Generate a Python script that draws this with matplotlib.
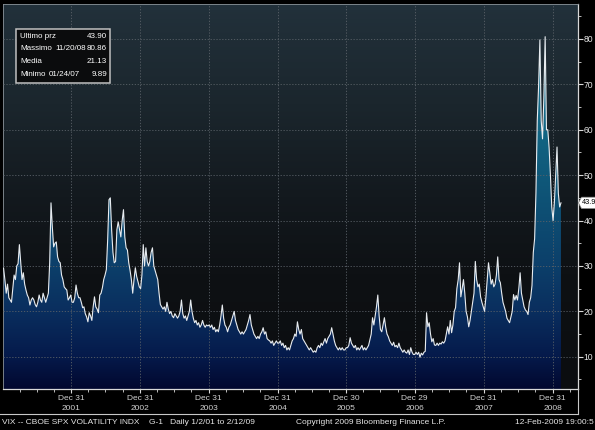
import numpy as np
import pandas as pd
import matplotlib
matplotlib.use('Agg')
import matplotlib.pyplot as plt
import matplotlib.dates as mdates
import matplotlib.transforms as mtrans
from matplotlib.colors import LinearSegmentedColormap
from matplotlib.patches import Rectangle, Polygon
from matplotlib.lines import Line2D

plt.rcParams['font.family'] = ['Liberation Sans', 'DejaVu Sans']

# weekly VIX closes (Fridays, Jan 2001 - Feb 2009)
vix_2001 = [29.5, 27, 24, 26, 23, 22.5, 22, 25, 28, 27,
            30, 30.5, 34.7, 31, 27, 28.5, 26, 24.7, 23.6, 23,
            21.4, 22.5, 23, 22.5, 21.5, 21, 22, 23.6, 22.5, 22,
            24, 23, 22, 23, 24, 30.7, 43.9, 38.6, 34.2, 35,
            35.3, 32, 31, 30.7, 28, 27, 25.4, 25, 24.7, 22.5,
            23, 23.6]
vix_2002 = [22, 22, 23, 25.8, 24, 23, 23, 22, 20.8, 21,
            19.5, 18.8, 17.7, 19.7, 19, 18, 21, 23.2, 21, 20.5,
            19.7, 23.6, 24, 25.2, 27, 28, 29.2, 35.8, 44.6, 45,
            38, 33, 30.7, 31, 38, 39.7, 38, 36.4, 40, 42.4,
            36.4, 34, 33.5, 30.7, 29, 27, 24, 27, 29.6, 27.7,
            26.5, 25.4]
vix_2003 = [25, 28, 34.7, 30, 34, 31, 30, 31, 33, 34,
            30, 29, 28, 27, 24, 21.5, 21, 20.5, 21, 20,
            22, 20.5, 19.5, 20, 19, 18.6, 19.5, 19, 18.5, 19,
            20, 22.5, 19.5, 18.5, 19, 18, 19, 20, 22.5, 20,
            18.5, 17.5, 18, 17, 17.5, 16.5, 17, 18, 17, 16.5,
            17, 16.8]
vix_2004 = [17, 16.5, 17, 16, 16.5, 15.5, 16, 15.5, 17, 19,
            21.4, 18.5, 17, 16.5, 15.5, 16.5, 17, 18, 19, 20,
            18, 17, 16, 15.5, 15, 15.5, 15, 15.5, 16, 17,
            18, 19.3, 17, 16, 15, 14.5, 14, 14.5, 14, 15,
            15.5, 16.4, 15, 15.5, 14, 13.7, 13.5, 13, 13.5, 12.5,
            13, 13.5, 13]
vix_2005 = [13, 13.5, 12.5, 13, 12, 12.5, 11.5, 12, 11.5, 12.5,
            13.5, 14, 15, 14.5, 17.7, 16, 15, 16, 14, 13.5,
            13, 12.5, 12, 11.5, 12, 11.5, 11, 11.3, 11, 12,
            12.5, 12, 13, 12.5, 13.3, 14, 13, 14, 14.5, 15,
            16.4, 15, 13.5, 12.5, 12, 11.5, 12, 11.5, 12, 11.5,
            11.5, 12]
vix_2006 = [12, 12.5, 14.2, 13, 12.5, 12, 12.5, 11.5, 12, 11.5,
            12, 12.5, 11.5, 12, 11.5, 12, 12.5, 13.7, 15, 18.6,
            17, 19, 21, 23.6, 19, 16, 15.5, 17, 18.6, 16.5,
            15, 14.4, 13.5, 13, 12.5, 13.2, 12.2, 12.5, 12, 13,
            12, 11.5, 11, 11.5, 11, 10.8, 11.5, 10.5, 12, 11,
            10.5, 10.5]
vix_2007 = [11, 10.5, 11, 9.9, 10.8, 10.4, 11, 11.2, 19.7, 16.6,
            17.5, 15, 13.3, 14, 12.6, 12.5, 13, 12.5, 13, 12.8,
            13.3, 13, 13.5, 15, 16.6, 15, 18, 15.3, 17, 20,
            20.8, 25, 27, 30.7, 23.2, 25, 27, 24, 20, 18.8,
            16.6, 18, 20, 21.9, 24, 31, 27, 25.4, 26, 23.2,
            22, 21]
vix_2008 = [20, 23, 27, 30.7, 28.5, 26, 27, 25.4, 26, 28,
            32, 27, 26.3, 24, 22, 21, 20, 18.5, 18, 17.5,
            18.8, 20, 23.7, 22.5, 23.5, 22.5, 25, 28.5, 24, 22.5,
            21, 20.3, 20, 19.3, 22, 23, 25.7, 33, 36, 46,
            62, 69.5, 79.8, 62, 58, 67, 80.5, 60, 60, 56,
            50, 43]
vix_2009 = [40, 44, 50, 56.2, 46, 43, 43.9]

year_ticks = ['2001-12-31', '2002-12-31', '2003-12-31', '2004-12-31',
              '2005-12-30', '2006-12-29', '2007-12-31', '2008-12-31']
year_labels = ['Dec 31\n2001', 'Dec 31\n2002', 'Dec 31\n2003', 'Dec 31\n2004',
               'Dec 30\n2005', 'Dec 29\n2006', 'Dec 31\n2007', 'Dec 31\n2008']
stats_names = ['Ultimo prz', 'Massimo', 'Media', 'Minimo']
stats_dates = ['', '11/20/08', '', '01/24/07']
stats_values = ['43.90', '80.86', '21.13', '9.89']
last_value = 43.90

vix = np.array(vix_2001 + vix_2002 + vix_2003 + vix_2004 + vix_2005 +
               vix_2006 + vix_2007 + vix_2008 + vix_2009)
dates = pd.date_range('2001-01-05', periods=len(vix), freq='W-FRI')
xd = mdates.date2num(dates)

W, H = 595, 430
fig = plt.figure(figsize=(W / 100, H / 100), dpi=100)
fig.patch.set_facecolor('black')

def fx(x):
    return x / W

def fy(y):
    return 1 - y / H

ax_l, ax_r, ax_t, ax_b = 3, 577.5, 4, 389
ax = fig.add_axes([fx(ax_l), fy(ax_b), (ax_r - ax_l) / W, (ax_b - ax_t) / H])

x0 = mdates.date2num(pd.Timestamp('2001-01-02'))
x1 = x0 + (ax_r - ax_l) / 0.18825
y0, y1 = 2.9, 87.7

# background gradient
bg_cmap = LinearSegmentedColormap.from_list('bg', [
    (0.0, '#0b0d10'), (0.3, '#0e1114'), (0.5, '#13191e'),
    (0.74, '#1b262d'), (1.0, '#22313b')])
grad = np.linspace(0, 1, 256).reshape(-1, 1)
ax.imshow(grad, extent=[x0, x1, y0, y1], origin='lower', aspect='auto',
          cmap=bg_cmap, zorder=0, interpolation='bilinear')

# area fill with vertical gradient
fill_cmap = LinearSegmentedColormap.from_list('fill', [
    (0.0, '#02082f'), (0.084, '#051a4b'), (0.2, '#0a2e5e'), (0.32, '#0c3f6a'),
    (0.5, '#0e5376'), (0.67, '#126583'), (0.91, '#1f7b98'), (1.0, '#2a87a3')])
poly = ax.fill_between(xd, vix, y0, facecolor='none', edgecolor='none')
im = ax.imshow(grad, extent=[x0, x1, y0, y1], origin='lower', aspect='auto',
               cmap=fill_cmap, zorder=1, interpolation='bilinear')
im.set_clip_path(poly.get_paths()[0], transform=ax.transData)

ax.plot(xd, vix, color='#e8ecf0', lw=0.8, zorder=4)

ax.set_xlim(x0, x1)
ax.set_ylim(y0, y1)

# grid
grid_kw = dict(color='#5a6168', lw=0.6, linestyle=(0, (1.5, 2)), zorder=3)
for v in range(10, 90, 10):
    ax.axhline(v, **grid_kw)
for d in year_ticks:
    ax.axvline(mdates.date2num(pd.Timestamp(d)), **grid_kw)

# axes styling
for s in ['top', 'left']:
    ax.spines[s].set_color('#8a9298')
    ax.spines[s].set_linewidth(0.6)
ax.spines['bottom'].set_color('#d8d8d8')
ax.spines['right'].set_color('#d8d8d8')
ax.spines['bottom'].set_linewidth(0.9)
ax.spines['right'].set_linewidth(0.9)

ax.yaxis.tick_right()
ax.set_yticks(range(10, 90, 10))
ax.set_yticks(range(5, 90, 5), minor=True)
ax.tick_params(axis='y', which='major', direction='out', length=3.5, width=0.8,
               color='#d8d8d8', labelcolor='#e6e6e6', labelsize=6.2, pad=1)
ax.tick_params(axis='y', which='minor', direction='out', length=2, width=0.6,
               color='#d8d8d8')

ax.set_xticks([mdates.date2num(pd.Timestamp(d)) for d in year_ticks])
ax.set_xticklabels(year_labels, linespacing=1.45)
quarters = pd.date_range('2001-03-31', '2009-03-31', freq='QE')
ax.set_xticks(mdates.date2num(quarters), minor=True)
ax.tick_params(axis='x', which='major', direction='out', length=3, width=0.8,
               color='#d8d8d8', labelcolor='#d0d0d0', labelsize=6, pad=1.5)
ax.tick_params(axis='x', which='minor', direction='out', length=2.5, width=0.6,
               color='#d8d8d8')

# last value tag
tr = mtrans.blended_transform_factory(ax.transAxes, ax.transData)
aw = ax_r - ax_l
hh = 1.25
tag = Polygon([(1 + 1 / aw, last_value), (1 + 4 / aw, last_value + hh),
               (1 + 18 / aw, last_value + hh), (1 + 18 / aw, last_value - hh),
               (1 + 4 / aw, last_value - hh)], closed=True, transform=tr,
              facecolor='white', edgecolor='#888888', lw=0.5, clip_on=False, zorder=6)
ax.add_patch(tag)
ax.text(1 + 4.3 / aw, last_value, '%.1f' % last_value, transform=tr, fontsize=5.3,
        color='black', ha='left', va='center', clip_on=False, zorder=7)

# stats box
fig.add_artist(Rectangle((fx(16), fy(83)), 94 / W, 54 / H, transform=fig.transFigure,
                         facecolor='#0b0c0d', edgecolor='#c0c0c0', lw=1.1, zorder=5))
date_x = [0, 55, 0, 49]
for i in range(len(stats_names)):
    yy = fy(36.5 + i * 12.5)
    fig.text(fx(20), yy, stats_names[i], fontsize=5.8, color='white',
             ha='left', va='center', zorder=6)
    if stats_dates[i]:
        fig.text(fx(date_x[i]), yy, stats_dates[i], fontsize=5.8, color='white',
                 ha='left', va='center', zorder=6)
    fig.text(fx(107), yy, stats_values[i], fontsize=5.8, color='white',
             ha='right', va='center', zorder=6)

# frame lines below the axis
fig.add_artist(Line2D([0, fx(ax_r)], [fy(414), fy(414)], color='#c8c8c8', lw=0.8))
fig.add_artist(Line2D([fx(ax_r), fx(ax_r)], [fy(ax_b), fy(414)], color='#c8c8c8', lw=0.8))

# footer
fig.text(fx(2), fy(422), 'VIX -- CBOE SPX VOLATILITY INDX    G-1   Daily 1/2/01 to 2/12/09',
         fontsize=6, color='#e6e6e6', ha='left', va='center')
fig.text(fx(371), fy(422), 'Copyright 2009 Bloomberg Finance L.P.',
         fontsize=6, color='#e6e6e6', ha='center', va='center')
fig.text(fx(594), fy(422), '12-Feb-2009 19:00:5',
         fontsize=6, color='#e6e6e6', ha='right', va='center')

fig.savefig('out.png', dpi=100, facecolor='black')
